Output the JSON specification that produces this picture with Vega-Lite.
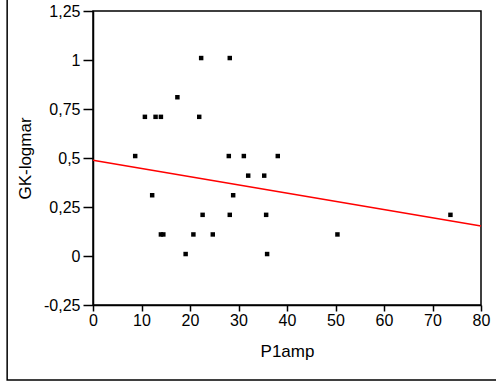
{
  "$schema": "https://vega.github.io/schema/vega-lite/v6.json",
  "autosize": "none",
  "width": 388,
  "height": 294,
  "padding": {"left": 93, "top": 11, "right": 15, "bottom": 80},
  "background": "white",
  "config": {
    "locale": {"number": {"decimal": ",", "thousands": ".", "grouping": [3], "currency": ["", ""], "minus": "-"}},
    "view": {"stroke": "black", "strokeWidth": 1.5},
    "axis": {
      "labelFont": "Liberation Sans",
      "titleFont": "Liberation Sans",
      "labelFontSize": 16,
      "titleFontSize": 17,
      "labelColor": "black",
      "titleColor": "black",
      "titleFontWeight": "normal",
      "domainColor": "black",
      "tickColor": "black",
      "domainWidth": 1.5,
      "tickWidth": 1.5,
      "grid": false
    }
  },
  "datasets": {
    "points": [
      {"P1amp": 8.7, "GK": 0.51},
      {"P1amp": 10.7, "GK": 0.71},
      {"P1amp": 12.9, "GK": 0.71},
      {"P1amp": 14.0, "GK": 0.71},
      {"P1amp": 17.4, "GK": 0.81},
      {"P1amp": 21.9, "GK": 0.71},
      {"P1amp": 22.3, "GK": 1.01},
      {"P1amp": 28.2, "GK": 1.01},
      {"P1amp": 28.0, "GK": 0.51},
      {"P1amp": 31.1, "GK": 0.51},
      {"P1amp": 32.0, "GK": 0.41},
      {"P1amp": 12.2, "GK": 0.31},
      {"P1amp": 28.9, "GK": 0.31},
      {"P1amp": 38.1, "GK": 0.51},
      {"P1amp": 35.3, "GK": 0.41},
      {"P1amp": 14.0, "GK": 0.11},
      {"P1amp": 14.5, "GK": 0.11},
      {"P1amp": 22.6, "GK": 0.21},
      {"P1amp": 28.2, "GK": 0.21},
      {"P1amp": 20.7, "GK": 0.11},
      {"P1amp": 24.7, "GK": 0.11},
      {"P1amp": 19.1, "GK": 0.01},
      {"P1amp": 35.7, "GK": 0.21},
      {"P1amp": 35.9, "GK": 0.01},
      {"P1amp": 50.4, "GK": 0.11},
      {"P1amp": 73.7, "GK": 0.21}
    ],
    "fit": [
      {"P1amp": 0, "GK": 0.489},
      {"P1amp": 80, "GK": 0.153}
    ]
  },
  "layer": [
    {
      "data": {"name": "points"},
      "mark": {"type": "square", "size": 20, "color": "black", "filled": true, "opacity": 1},
      "encoding": {
        "x": {
          "field": "P1amp", "type": "quantitative",
          "scale": {"domain": [0, 80], "nice": false, "zero": false},
          "axis": {"values": [0, 10, 20, 30, 40, 50, 60, 70, 80], "title": "P1amp", "tickSize": 6, "labelPadding": 1, "titlePadding": 15, "labelFlush": false}
        },
        "y": {
          "field": "GK", "type": "quantitative",
          "scale": {"domain": [-0.25, 1.25], "nice": false, "zero": false},
          "axis": {"values": [-0.25, 0, 0.25, 0.5, 0.75, 1, 1.25], "format": ".2~f", "title": "GK-logmar", "tickSize": 10, "labelPadding": 3, "titlePadding": 9, "labelFlush": false}
        }
      }
    },
    {
      "data": {"name": "fit"},
      "mark": {"type": "line", "color": "#ff0000", "strokeWidth": 1.5},
      "encoding": {
        "x": {"field": "P1amp", "type": "quantitative"},
        "y": {"field": "GK", "type": "quantitative"}
      }
    },
    {
      "data": {"values": [{}]},
      "mark": {"type": "rect", "filled": false, "stroke": "black", "strokeWidth": 1.5, "fill": null, "clip": false},
      "encoding": {
        "x": {"datum": -17.7, "type": "quantitative"},
        "x2": {"datum": 95},
        "y": {"datum": -0.633, "type": "quantitative"},
        "y2": {"datum": 1.4}
      }
    }
  ]
}
